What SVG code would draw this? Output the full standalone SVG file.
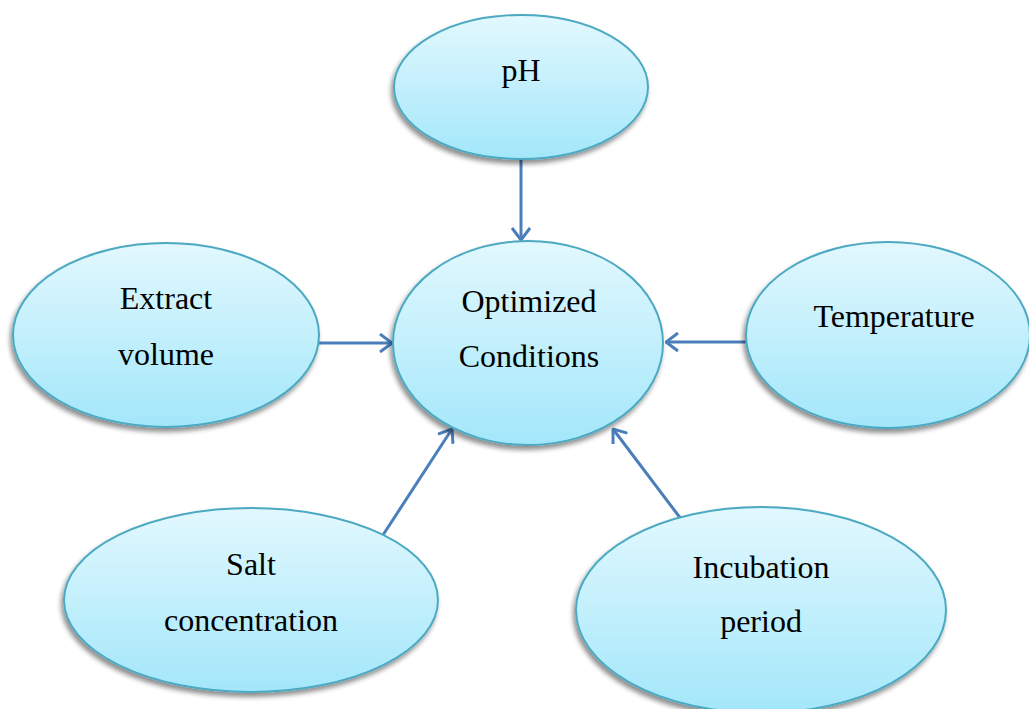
<svg xmlns="http://www.w3.org/2000/svg" width="1029" height="709" viewBox="0 0 1029 709">
<style>
.shape{fill:url(#g);stroke:#4ba9c2;stroke-width:2;filter:url(#sh)}
.lbl{font-family:'Liberation Serif','Times New Roman',serif;font-size:32px;fill:#000;text-anchor:middle}
.edge{stroke:#4a7ebb;stroke-width:3;fill:none;marker-end:url(#ah)}
</style>
<defs>
<linearGradient id="g" x1="0" y1="0" x2="0" y2="1">
<stop offset="0" stop-color="#e2f8fe"/>
<stop offset="1" stop-color="#a3e7fa"/>
</linearGradient>
<filter id="sh" x="-10%" y="-10%" width="120%" height="130%">
<feGaussianBlur in="SourceAlpha" stdDeviation="2.5"/>
<feOffset dx="-2" dy="4" result="b"/>
<feComponentTransfer><feFuncA type="linear" slope="0.45"/></feComponentTransfer>
<feMerge><feMergeNode/><feMergeNode in="SourceGraphic"/></feMerge>
</filter>
<marker id="ah" viewBox="0 0 14 20" refX="13" refY="10" markerWidth="14" markerHeight="20" markerUnits="userSpaceOnUse" orient="auto">
<path d="M1,1 L13,10 L1,19" fill="none" stroke="#4a7ebb" stroke-width="3"/>
</marker>
</defs>
<g id="connectors">
<line class="edge" x1="521" y1="159" x2="521" y2="240"/>
<line class="edge" x1="319" y1="343" x2="392" y2="343"/>
<line class="edge" x1="746" y1="342" x2="666" y2="342"/>
<line class="edge" x1="383" y1="535" x2="452" y2="429"/>
<line class="edge" x1="681" y1="519" x2="613" y2="429"/>
</g>
<g id="node-ph">
<ellipse class="shape" cx="521" cy="87" rx="127" ry="72"/>
<text class="lbl" x="521" y="81">pH</text>
</g>
<g id="node-center">
<ellipse class="shape" cx="528" cy="343" rx="135" ry="102"/>
<text class="lbl" x="529" y="312">Optimized</text>
<text class="lbl" x="529" y="367">Conditions</text>
</g>
<g id="node-extract">
<ellipse class="shape" cx="166" cy="335" rx="153" ry="92"/>
<text class="lbl" x="166" y="309">Extract</text>
<text class="lbl" x="166" y="365">volume</text>
</g>
<g id="node-temperature">
<ellipse class="shape" cx="888" cy="335" rx="142" ry="93"/>
<text class="lbl" x="894" y="327">Temperature</text>
</g>
<g id="node-salt">
<ellipse class="shape" cx="251" cy="600" rx="187" ry="92"/>
<text class="lbl" x="251" y="575">Salt</text>
<text class="lbl" x="251" y="631">concentration</text>
</g>
<g id="node-incubation">
<ellipse class="shape" cx="761" cy="610" rx="185" ry="103"/>
<text class="lbl" x="761" y="578">Incubation</text>
<text class="lbl" x="761" y="632">period</text>
</g>
</svg>
